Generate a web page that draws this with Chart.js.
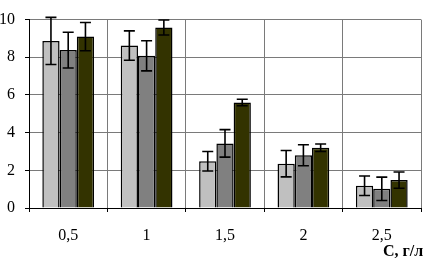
<!DOCTYPE html>
<html>
<head>
<meta charset="utf-8">
<script src="https://cdn.jsdelivr.net/npm/chart.js@4"></script>
<style>
html,body{margin:0;padding:0;background:#fff;}
canvas{display:block;}
</style>
</head>
<body>
<canvas id="c" width="427" height="258"></canvas>
<script>
const categories = ["0,5", "1", "1,5", "2", "2,5"];
const series1 = [8.87, 8.62, 2.48, 2.35, 1.18];
const series2 = [8.38, 8.08, 3.43, 2.80, 1.02];
const series3 = [9.10, 9.58, 5.60, 3.20, 1.48];
const err1 = [1.25, 0.78, 0.52, 0.70, 0.52];
const err2 = [0.95, 0.80, 0.73, 0.56, 0.62];
const err3 = [0.75, 0.40, 0.17, 0.20, 0.43];
const yTicks = [0, 2, 4, 6, 8, 10];
const axisTitle = "С, г/л";

const errors = [err1, err2, err3];

const errorBarPlugin = {
  id: 'errorBars',
  afterDatasetsDraw(chart) {
    const ctx = chart.ctx;
    const y = chart.scales.y;
    ctx.save();
    ctx.strokeStyle = '#000';
    ctx.lineWidth = 1.6;
    chart.data.datasets.forEach((ds, di) => {
      const meta = chart.getDatasetMeta(di);
      meta.data.forEach((bar, i) => {
        const v = ds.data[i], e = errors[di][i];
        const yt = y.getPixelForValue(v + e);
        const yb = y.getPixelForValue(v - e);
        const x = bar.x;
        const hw = 5.5;
        ctx.beginPath();
        ctx.moveTo(x, yt); ctx.lineTo(x, yb);
        ctx.moveTo(x - hw, yt); ctx.lineTo(x + hw, yt);
        ctx.moveTo(x - hw, yb); ctx.lineTo(x + hw, yb);
        ctx.stroke();
      });
    });
    ctx.restore();
  }
};

const titlePlugin = {
  id: 'cornerTitle',
  afterDraw(chart) {
    const ctx = chart.ctx;
    ctx.save();
    ctx.font = 'bold 16px "Liberation Serif", serif';
    ctx.fillStyle = '#000';
    ctx.textAlign = 'left';
    ctx.textBaseline = 'alphabetic';
    ctx.fillText(axisTitle, 383, 256);
    ctx.restore();
  }
};

new Chart(document.getElementById('c'), {
  type: 'bar',
  data: {
    labels: categories,
    datasets: [
      { data: series1, backgroundColor: '#c0c0c0', borderColor: '#000', borderWidth: 1.5 },
      { data: series2, backgroundColor: '#808080', borderColor: '#000', borderWidth: 1.5 },
      { data: series3, backgroundColor: '#333300', borderColor: '#000', borderWidth: 1.5 }
    ]
  },
  options: {
    responsive: false,
    animation: false,
    devicePixelRatio: 1,
    layout: { padding: { top: 8, right: 6, left: 0, bottom: 0 } },
    plugins: { legend: { display: false }, tooltip: { enabled: false } },
    datasets: { bar: { categoryPercentage: 0.66, barPercentage: 1.0 } },
    scales: {
      x: {
        afterFit(s) { s.height = 50; },
        grid: { offset: true, color: '#7a7a7a', lineWidth: 1, tickLength: 4, tickColor: '#000' },
        border: { color: '#000', width: 1 },
        ticks: { color: '#000', padding: 14, font: { family: '"Liberation Serif", serif', size: 16 } }
      },
      y: {
        min: 0, max: 10,
        afterFit(s) { s.width = 29; },
        afterBuildTicks(s) { s.ticks = yTicks.map(v => ({ value: v })); },
        grid: { color: '#7a7a7a', lineWidth: 1, tickLength: 4, tickColor: '#000' },
        border: { color: '#000', width: 1 },
        ticks: { color: '#000', padding: 10, font: { family: '"Liberation Serif", serif', size: 16 } }
      }
    }
  },
  plugins: [errorBarPlugin, titlePlugin]
});
</script>
</body>
</html>
